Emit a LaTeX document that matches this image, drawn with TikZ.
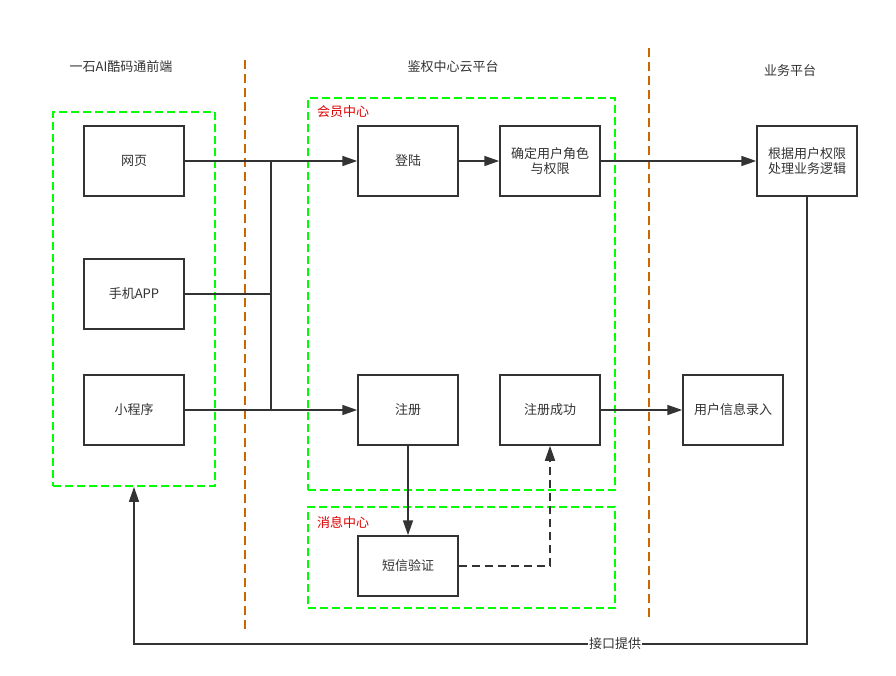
\documentclass[tikz,border=0pt]{standalone}
\usepackage{fontspec}
\setmainfont{Noto Sans CJK SC}
\usepackage{tikz}
\usetikzlibrary{arrows.meta,calc}

\definecolor{ink}{HTML}{333333}
\definecolor{grp}{HTML}{00FF00}
\definecolor{sep}{HTML}{CC6600}
\definecolor{tag}{HTML}{E00000}

\tikzset{
  box/.style={draw=ink, line width=1.5pt, minimum width=100pt, minimum height=70pt, text width=90pt, align=center, text=ink},
  group/.style={draw=grp, line width=1.8pt, dash pattern=on 8pt off 4pt},
  divider/.style={draw=sep, line width=1.8pt, dash pattern=on 9pt off 5pt},
  link/.style={draw=ink, line width=1.6pt}
}

\begin{document}
\begin{tikzpicture}[x=1pt, y=-1pt, >={Triangle[length=15pt,width=10pt]}, font=\fontsize{13}{15.5}\selectfont]
  \useasboundingbox (0,0) rectangle (896,675);
  % Nodes
  \node[group, minimum width=162pt, minimum height=374pt](fe) at (134,299){};
  \node[group, minimum width=307pt, minimum height=392pt](member) at (461.5,294){};
  \node[group, minimum width=307pt, minimum height=101pt](msg) at (461.5,557.5){};
  \node[text=ink](feT) at (121,67){一石AI酷码通前端};
  \node[text=ink](authT) at (453,67){鉴权中心云平台};
  \node[text=ink](bizT) at (790,71){业务平台};
  \node[text=tag, anchor=west, inner sep=0pt](memberT) at (317,112){会员中心};
  \node[text=tag, anchor=west, inner sep=0pt](msgT) at (317,522){消息中心};
  \node[box](web) at (134,161){网页};
  \node[box](app) at (134,294){手机APP};
  \node[box](mini) at (134,410){小程序};
  \node[box](login) at (408,161){登陆};
  \node[box](role) at (550,161){确定用户角色\\与权限};
  \node[box](reg) at (408,410){注册};
  \node[box](regok) at (550,410){注册成功};
  \node[box, minimum height=60pt](sms) at (408,566){短信验证};
  \node[box](biz) at (807,161){根据用户权限\\处理业务逻辑};
  \node[box](info) at (733,410){用户信息录入};
  \coordinate(busT) at (271,161);
  \coordinate(busB) at (271,410);
  \coordinate(ret) at (134,644);
  % Dividers
  \path[divider] (245,60) -- (245,630);
  \path[divider] (649,48) -- (649,618);
  % Edges
  \path[link,->] (web.east) -- (login.west);
  \path[link] (busT) -- (busB);
  \path[link] (app.east) -- (app.east -| busT);
  \path[link,->] (mini.east) -- (reg.west);
  \path[link,->] (login.east) -- (role.west);
  \path[link,->] (role.east) -- (biz.west);
  \path[link,->] (regok.east) -- (info.west);
  \path[link,->] (reg.south) -- (sms.north);
  \path[link,->,dash pattern=on 8pt off 5pt] (sms.east) -| (regok.south);
  \path[link,->] (biz.south) -- (biz.south |- ret) -- node[pos=0.285, fill=white, inner sep=1pt, text=ink]{接口提供} (ret) -- (fe.south);
\end{tikzpicture}
\end{document}
